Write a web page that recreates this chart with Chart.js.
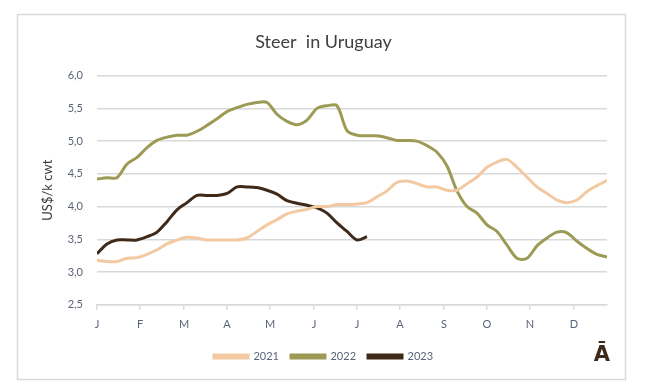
<!DOCTYPE html>
<html>
<head>
<meta charset="utf-8">
<script src="https://cdn.jsdelivr.net/npm/chart.js@4.4.0/dist/chart.umd.min.js"></script>
<style>
  html, body { margin: 0; padding: 0; background: #fff; }
  #wrap { position: relative; width: 646px; height: 384px; }
</style>
</head>
<body>
<div id="wrap"><canvas id="steer-chart" width="646" height="384"></canvas></div>
<script>
'use strict';

// weekly prices, US$/k cwt
var steer2021 = [3.18, 3.16, 3.16, 3.21, 3.22, 3.27, 3.34, 3.43, 3.49, 3.53,
    3.52, 3.49, 3.49, 3.49, 3.49, 3.52, 3.62, 3.72, 3.80, 3.89,
    3.93, 3.96, 4.00, 4.00, 4.03, 4.03, 4.04, 4.06, 4.15, 4.24,
    4.37, 4.39, 4.35, 4.30, 4.30, 4.25, 4.25, 4.35, 4.45, 4.60,
    4.68, 4.72, 4.60, 4.45, 4.30, 4.20, 4.10, 4.06, 4.10, 4.23,
    4.32, 4.40];
var steer2022 = [4.42, 4.44, 4.44, 4.65, 4.75, 4.90, 5.01, 5.06, 5.09, 5.09,
    5.15, 5.24, 5.34, 5.45, 5.51, 5.56, 5.59, 5.59, 5.41, 5.30,
    5.25, 5.32, 5.50, 5.54, 5.54, 5.16, 5.09, 5.08, 5.08, 5.05,
    5.01, 5.01, 5.00, 4.93, 4.83, 4.62, 4.24, 4.00, 3.90, 3.72,
    3.62, 3.41, 3.21, 3.21, 3.40, 3.52, 3.61, 3.60, 3.47, 3.36,
    3.27, 3.23];
var steer2023 = [3.28, 3.43, 3.49, 3.49, 3.49, 3.54, 3.61, 3.77, 3.95, 4.06,
    4.17, 4.17, 4.17, 4.20, 4.30, 4.30, 4.29, 4.25, 4.19, 4.09,
    4.05, 4.02, 3.98, 3.90, 3.75, 3.62, 3.49, 3.54];

var seriesNames = ['2021', '2022', '2023'];
var monthLabels = ['J', 'F', 'M', 'A', 'M', 'J', 'J', 'A', 'S', 'O', 'N', 'D'];
var monthWeeks = [0, 4.3, 8.7, 13, 17.3, 21.7, 26, 30.3, 34.7, 39, 43.3, 47.7];
var yTicks = [2.5, 3.0, 3.5, 4.0, 4.5, 5.0, 5.5, 6.0];

var toPoints = arr => arr.map((v, i) => ({x: i, y: v}));

var frame = {
    id: 'frame',
    beforeDraw(chart) {
        var ctx = chart.ctx;
        ctx.save();
        ctx.fillStyle = '#ffffff';
        ctx.fillRect(0, 0, chart.width, chart.height);
        ctx.strokeStyle = '#d9d9d9';
        ctx.lineWidth = 1.5;
        ctx.strokeRect(17.5, 14.5, 608, 365);
        ctx.restore();
    },
    afterDraw(chart) {
        var ctx = chart.ctx;
        ctx.save();
        ctx.fillStyle = '#3f2a1a';
        ctx.font = 'bold 21px "DejaVu Sans"';
        ctx.textAlign = 'center';
        ctx.textBaseline = 'middle';
        ctx.fillText('\u0100', 602, 356);
        ctx.restore();
    }
};

var colors = ['#f2c9a0', '#9c9a55', '#3f2a1a'];
var lines = [steer2021, steer2022, steer2023];

new Chart(document.getElementById('steer-chart'), {
    type: 'line',
    data: {
        datasets: lines.map((arr, i) => ({
            label: seriesNames[i],
            data: toPoints(arr),
            borderColor: colors[i],
            backgroundColor: colors[i],
            borderWidth: 3,
            pointRadius: 0,
            tension: 0.3
        }))
    },
    options: {
        responsive: false,
        animation: false,
        layout: {padding: {left: 40, right: 39, top: 14, bottom: 12}},
        plugins: {
            title: {
                display: true,
                text: 'Steer  in Uruguay',
                color: '#404040',
                font: {family: 'Lato', size: 18, weight: 'normal'},
                padding: {top: 17, bottom: 23}
            },
            legend: {
                position: 'bottom',
                labels: {
                    color: '#5a6478',
                    font: {family: 'Lato', size: 11},
                    boxWidth: 34,
                    boxHeight: 3,
                    padding: 12
                }
            },
            tooltip: {enabled: false}
        },
        scales: {
            x: {
                type: 'linear',
                min: 0,
                max: steer2021.length - 1,
                afterBuildTicks: scale => {
                    scale.ticks = monthWeeks.map(v => ({value: v}));
                },
                ticks: {
                    autoSkip: false,
                    maxRotation: 0,
                    color: '#5a6478',
                    font: {family: 'Lato', size: 11},
                    padding: 8,
                    callback: (v, i) => monthLabels[i]
                },
                grid: {drawOnChartArea: false, color: '#d9d9d9', tickLength: 5, lineWidth: 1.5},
                border: {display: true, color: '#d9d9d9', width: 1.5}
            },
            y: {
                min: 2.5,
                max: 6.0,
                afterBuildTicks: scale => {
                    scale.ticks = yTicks.map(v => ({value: v}));
                },
                afterFit: scale => { scale.width = 57; },
                ticks: {
                    color: '#5a6478',
                    font: {family: 'Lato', size: 11},
                    padding: 14,
                    callback: v => v.toFixed(1).replace('.', ',')
                },
                grid: {color: '#d9d9d9', lineWidth: 1.5, drawTicks: false},
                border: {display: false},
                title: {
                    display: true,
                    text: 'US$/k cwt',
                    color: '#3a3a3a',
                    font: {family: 'Lato', size: 13},
                    padding: 0
                }
            }
        }
    },
    plugins: [frame]
});
</script>
</body>
</html>
